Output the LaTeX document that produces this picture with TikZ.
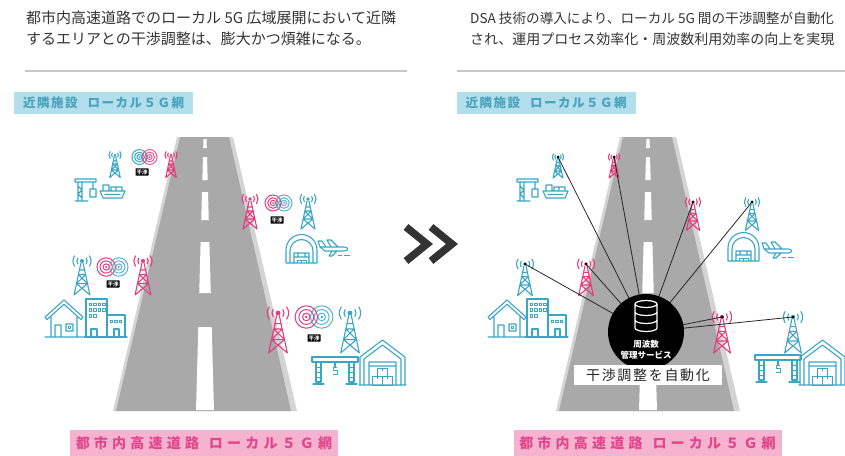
\documentclass[tikz,border=0pt]{standalone}
\usepackage{fontspec}
\setmainfont{Noto Sans CJK JP}
\newfontfamily\widefont[LetterSpace=12]{Noto Sans CJK JP}
\newfontfamily\pinkfont[LetterSpace=30]{Noto Sans CJK JP}

\definecolor{textgray}{HTML}{333333}
\definecolor{rulegray}{HTML}{C8C8C8}
\definecolor{road}{HTML}{A9A9A9}
\definecolor{roadedge}{HTML}{D4D4D4}
\definecolor{cyanic}{HTML}{3AA6C6}
\definecolor{pinkic}{HTML}{E63B7C}
\definecolor{tagcyan}{HTML}{B2DFEB}
\definecolor{tagcyantext}{HTML}{4BA3BC}
\definecolor{tagpink}{HTML}{F5B3D0}
\definecolor{tagpinktext}{HTML}{E1488B}

\tikzset{
  hdtext/.style={anchor=west, inner sep=0pt, text=textgray},
  rule/.style={rulegray, line width=1.6pt},
  areatag/.style={fill=tagcyan, text=tagcyantext, font=\widefont\bfseries\fontsize{12.5}{13}\selectfont,
    minimum width=179pt, minimum height=22pt, inner sep=0pt},
  roadtag/.style={fill=tagpink, text=tagpinktext, font=\pinkfont\bfseries\fontsize{14}{15}\selectfont,
    minimum width=268pt, minimum height=26pt, inner sep=0pt},
  kanshou/.style={fill=black, text=white, font=\bfseries\fontsize{5.5}{6}\selectfont,
    inner sep=1pt, rounded corners=0.5pt},
  icon/.style={line width=1.1pt, line join=round, line cap=round},
  thin/.style={line width=0.8pt, line join=round},
  link/.style={black!85, line width=0.8pt},
  chevron/.style={textgray, line width=7.5pt},
  % radio mast, origin at the top dot
  pics/tower/.style={code={
    \fill[#1] (0,0) circle[radius=1.8];
    \draw[icon,#1] (-1,2) -- (-7,30) (1,2) -- (7,30)
      (-2.2,8) -- (2.2,8) (-3.1,12) -- (3.1,12) (-4.9,20) -- (4.9,20)
      (-3.1,12) -- (4.9,20) (3.1,12) -- (-4.9,20)
      (-4.9,20) -- (7,30) (4.9,20) -- (-7,30);
    \foreach \r in {4.5,8}
      \draw[icon,#1] (145:\r) arc[start angle=145,end angle=215,radius=\r]
        (-35:\r) arc[start angle=-35,end angle=35,radius=\r];
  }},
  % two overlapping ring sets
  pics/interf/.style 2 args={code={
    \draw[line width=1pt,#1] (-5.5,0) circle[radius=8] (-5.5,0) circle[radius=5.3]
      (-5.5,0) circle[radius=2.7];
    \fill[#1] (-5.5,0) circle[radius=1];
    \draw[line width=1pt,#2,opacity=0.85] (5.5,0) circle[radius=8] (5.5,0) circle[radius=5.3]
      (5.5,0) circle[radius=2.7];
    \fill[#2] (5.5,0) circle[radius=1];
  }},
  pics/crane/.style={code={
    \draw[icon,#1] (0,1) rectangle (21,4)
      (3,4) -- (3,23) (7,4) -- (7,23)
      (3,8) -- (7,12) -- (3,16) -- (7,20)
      (0,23) -- (13,23)
      (18,4) -- (18,11)
      (15,11) -- (21,11) -- (21,19) -- (15,19) -- cycle;
  }},
  pics/ship/.style={code={
    \draw[icon,#1] (0,8) -- (25,8) -- (22,15) -- (3,15) -- cycle
      (3,8) -- (3,2) -- (9,2) -- (9,8)
      (11,8) -- (11,4) -- (22,4) -- (22,8) (16,4) -- (16,8)
      (5,11.5) -- (20,11.5);
  }},
  pics/hangar/.style={code={
    \draw[icon,#1] (0,28) -- (0,15) arc[start angle=180,end angle=360,radius=15.5] -- (31,28) -- cycle
      (4,28) -- (4,16) arc[start angle=180,end angle=360,radius=11.5] -- (27,28)
      (8,28) -- (8,18) -- (23,18) -- (23,28) (8,22) -- (23,22)
      (12,22) -- (12,18) (19,22) -- (19,18);
    \draw[thin,#1] (11,25) -- (20,25) (11,25) -- (11,28) (15.5,25) -- (15.5,28) (20,25) -- (20,28);
  }},
  pics/plane/.style={code={
    \draw[icon,#1] (2,9) -- (26,9) .. controls (31,9) and (31,13) .. (26,13) -- (7,13) -- (2,9)
      -- (0,3) -- (4,3) -- (8,9)
      (13,9) -- (9,2) -- (13,2) -- (20,9)
      (14,13) -- (11,18) -- (14,18) -- (19,13);
    \draw[thin,#1] (20,17) -- (24,17) (26,17) -- (32,17);
  }},
  pics/house/.style={code={
    \draw[icon,#1] (0,17) -- (19,0) -- (38,17) -- (36,19.5) -- (19,4.3) -- (2,19.5) -- cycle
      (6,17) -- (6,37) (32,17) -- (32,37) (0,37) -- (38,37)
      (10,37) -- (10,25) -- (16,25) -- (16,37)
      (21,24) rectangle (28,31);
    \draw[thin,#1] (23.5,26.5) rectangle (25.5,28.5);
  }},
  pics/blocks/.style={code={
    \draw[icon,#1] (0,38) -- (0,0) -- (21,0) -- (21,38)
      (21,16) -- (39,16) -- (39,38) (-2,38) -- (41,38)
      (5,38) -- (5,30) -- (11,30) -- (11,38)
      (28,38) -- (28,30) -- (33,30) -- (33,38);
    \foreach \y in {4,9.5}
      \foreach \x in {3,7.5,12,16.5}
        \draw[thin,#1] (\x,\y) rectangle ++(2.6,2.6);
    \foreach \x in {3,7.5} \draw[thin,#1] (\x,15.5) rectangle ++(2.6,2.6);
    \foreach \x in {24,28.5,33} \draw[thin,#1] (\x,21) rectangle ++(2.6,2.6);
  }},
  pics/gantry/.style={code={
    \draw[icon,#1] (0,0) rectangle (46,5)
      (4,5) rectangle (9,25) (37,5) rectangle (42,25)
      (1,27) -- (12,27) (34,27) -- (45,27)
      (23,5) -- (23,10);
    \draw[thin,#1] (4,10) -- (9,10) (4,15) -- (9,15) (4,20) -- (9,20)
      (37,10) -- (42,10) (37,15) -- (42,15) (37,20) -- (42,20)
      (25,10) -- (21,10) -- (21,13.5) -- (25,13.5) -- (25,17) -- (21,17);
  }},
  pics/warehouse/.style={code={
    \draw[icon,#1] (0,45) -- (0,17) -- (22.5,0) -- (45,17) -- (45,45)
      (4,45) -- (4,19) -- (22.5,5) -- (41,19) -- (41,45)
      (-1,45) -- (46,45)
      (9,45) -- (9,22) -- (36,22) -- (36,45) (9,26) -- (36,26);
    \draw[thin,#1] (12,36) rectangle (22,45) (22,36) rectangle (32,45) (17,28) rectangle (27,36)
      (17,36) -- (17,39) (27,36) -- (27,39) (22,28) -- (22,31);
  }},
}

\begin{document}
\begin{tikzpicture}[x=1pt,y=-1pt]
\useasboundingbox (0,0) rectangle (845,455);

% captions
\node[hdtext, font=\fontsize{15}{18}\selectfont] (hdL1) at (26,18) {都市内高速道路でのローカル 5G 広域展開において近隣};
\node[hdtext, font=\fontsize{15}{18}\selectfont] (hdL2) at (26,39) {するエリアとの干渉調整は、膨大かつ煩雑になる。};
\node[hdtext, font=\fontsize{13.6}{18}\selectfont] (hdR1) at (470,18) {DSA 技術の導入により、ローカル 5G 間の干渉調整が自動化};
\node[hdtext, font=\fontsize{14}{18}\selectfont] (hdR2) at (470,39) {され、運用プロセス効率化・周波数利用効率の向上を実現};
\draw[rule] (25,71) -- (407,71);
\draw[rule] (457,71) -- (845,71);

% the two roads with their centre dashes
\foreach \dx in {0,443} {
  \fill[roadedge] (177+\dx,137) -- (233+\dx,137) -- (297+\dx,411) -- (113+\dx,411) -- cycle;
  \fill[road] (180+\dx,137) -- (229+\dx,137) -- (291+\dx,411) -- (116+\dx,411) -- cycle;
  \foreach \a/\b in {139/148,157/180,192/220,242/293,327/410}
    \fill[white] ({205+\dx-1.5-7.5*(\a-137)/274},\a) -- ({205+\dx+1.5+7.5*(\a-137)/274},\a)
      -- ({205+\dx+1.5+7.5*(\b-137)/274},\b) -- ({205+\dx-1.5-7.5*(\b-137)/274},\b) -- cycle;
}

\node[areatag] (nbL) at (103.5,103) {近隣施設\hspace{10pt}ローカル５Ｇ網};
\node[areatag] (nbR) at (546,103) {近隣施設\hspace{10pt}ローカル５Ｇ網};
\node[roadtag] (hwL) at (204,443) {都市内高速道路\hspace{10pt}ローカル５Ｇ網};
\node[roadtag] (hwR) at (647.5,443) {都市内高速道路\hspace{10pt}ローカル５Ｇ網};

% before / after
\draw[chevron] (406,227) -- (427,244) -- (406,261);
\draw[chevron] (431,227) -- (452,244) -- (431,261);

% left: every site tunes against its neighbour
\pic[scale=0.75] at (115,155) {tower=cyanic};
\pic[scale=0.75] at (171,155) {tower=pinkic};
\pic[scale=0.93] at (144.5,157) {interf={cyanic}{pinkic}};
\node[kanshou] (kA) at (142,172) {干渉};
\pic at (75,178) {crane=cyanic};
\pic at (100,183) {ship=cyanic};

\pic at (250,199) {tower=pinkic};
\pic at (308,199) {tower=cyanic};
\pic at (278.5,203) {interf={pinkic}{cyanic}};
\node[kanshou] (kB) at (277,220) {干渉};
\pic at (286,235) {hangar=cyanic};
\pic at (318,238) {plane=cyanic};

\pic[scale=1.13] at (82,261) {tower=cyanic};
\pic[scale=1.13] at (143,261) {tower=pinkic};
\pic[scale=1.15] at (112.5,267) {interf={pinkic}{cyanic}};
\node[kanshou] (kC) at (113,284) {干渉};
\pic at (45,300) {house=cyanic};
\pic at (86,299) {blocks=cyanic};

\pic[scale=1.33] at (278,313) {tower=pinkic};
\pic[scale=1.33] at (350,313) {tower=cyanic};
\pic[scale=1.4] at (314,317) {interf={pinkic}{cyanic}};
\node[kanshou] (kD) at (314,338) {干渉};
\pic at (312,357) {gantry=cyanic};
\pic at (360,340) {warehouse=cyanic};

% right: all sites tied to one service
\coordinate (r1) at (558,157);
\coordinate (r2) at (614,157);
\coordinate (r3) at (693,202);
\coordinate (r4) at (752,202);
\coordinate (r5) at (525,264);
\coordinate (r6) at (586,264);
\coordinate (r7) at (722,317);
\coordinate (r8) at (793,317);
\coordinate (hub) at (646,332);

\pic[scale=0.7] at (r1) {tower=cyanic};
\pic[scale=0.7] at (r2) {tower=pinkic};
\pic[scale=0.95] at (r3) {tower=pinkic};
\pic[scale=0.95] at (r4) {tower=cyanic};
\pic[scale=1.05] at (r5) {tower=cyanic};
\pic[scale=1.05] at (r6) {tower=pinkic};
\pic[scale=1.2] at (r7) {tower=pinkic};
\pic[scale=1.2] at (r8) {tower=cyanic};
\pic at (517,178) {crane=cyanic};
\pic at (543,183) {ship=cyanic};
\pic at (728,233) {hangar=cyanic};
\pic at (762,240) {plane=cyanic};
\pic at (488,300) {house=cyanic};
\pic at (527,299) {blocks=cyanic};
\pic at (755,355) {gantry=cyanic};
\pic at (800,340) {warehouse=cyanic};

\foreach \t in {r1,r2,r3,r4,r5,r6,r7,r8} {
  \draw[link] (\t) -- (hub);
  \fill (\t) circle[radius=1.5];
}

\node[circle, fill=black, minimum size=76pt, inner sep=0pt] (dsa) at (hub) {};
% database glyph
\draw[white, line width=1.2pt] (646,304) ellipse[x radius=11, y radius=3.5]
  (635,304) -- (635,328) (657,304) -- (657,328)
  (635,312) arc[start angle=180, end angle=0, x radius=11, y radius=3.5]
  (635,320) arc[start angle=180, end angle=0, x radius=11, y radius=3.5]
  (635,328) arc[start angle=180, end angle=0, x radius=11, y radius=3.5];
\node[text=white, font=\bfseries\fontsize{8.5}{11}\selectfont, align=center, inner sep=0pt] (dsatext) at (646,350) {周波数\\管理サービス};
\node[fill=white, text=black!85, font=\widefont\fontsize{14}{14}\selectfont,
  minimum width=148pt, minimum height=20pt, inner sep=0pt] (auto) at (648,375) {干渉調整を自動化};

\end{tikzpicture}
\end{document}
